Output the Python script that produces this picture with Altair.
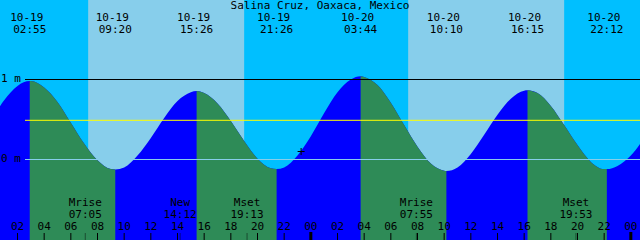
import altair as alt
import pandas as pd

# ---------------- data ----------------
title = "Salina Cruz, Oaxaca, Mexico"

# hourly tide level (m); hour 0 = 10-19 00:00
hours = list(range(0, 50))
level = [0.48, 0.74, 0.92, 0.98, 0.90, 0.72, 0.46, 0.20, -0.01, -0.12,
         -0.10, 0.05, 0.27, 0.52, 0.73, 0.84, 0.83, 0.70, 0.48, 0.23,
         0.01, -0.11, -0.10, 0.05, 0.29, 0.58, 0.84, 1.00, 1.03, 0.93,
         0.71, 0.43, 0.16, -0.05, -0.14, -0.10, 0.07, 0.31, 0.56, 0.76,
         0.86, 0.83, 0.67, 0.43, 0.18, -0.03, -0.12, -0.08, 0.05, 0.27]

# high / low tide events
event_day = [0, 0, 0, 0, 1, 1, 1, 1]
event_date = ["10-19", "10-19", "10-19", "10-19", "10-20", "10-20", "10-20", "10-20"]
event_time = ["02:55", "09:20", "15:26", "21:26", "03:44", "10:10", "16:15", "22:12"]
event_type = ["H", "L", "H", "L", "H", "L", "H", "L"]
event_level = [0.98, -0.125, 0.855, -0.12, 1.04, -0.145, 0.865, -0.12]

# moon events
moon_day = [0, 0, 0, 1, 1]
moon_name = ["Mrise", "New", "Mset", "Mrise", "Mset"]
moon_time = ["07:05", "14:12", "19:13", "07:55", "19:53"]

# sun (day / night sky)
sky_start = [0.0, 7.3, 19.0, 31.3, 43.0]
sky_end = [7.3, 19.0, 31.3, 43.0, 50.0]
sky_kind = ["night", "day", "night", "day", "night"]

# axis ticks
tick_hours = list(range(2, 49, 2))
tick_labels = ["02", "04", "06", "08", "10", "12", "14", "16", "18", "20", "22", "00",
               "02", "04", "06", "08", "10", "12", "14", "16", "18", "20", "22", "00"]
midnights = [24, 48]

mark_level = 0.49       # yellow line
now_hour, now_level = 23.27, 0.10

# ---------------- build tables ----------------
def to_h(day, t):
    hh, mm = t.split(":")
    return day * 24 + int(hh) + int(mm) / 60.0

event_h = [to_h(d, t) for d, t in zip(event_day, event_time)]
moon_h = [to_h(d, t) for d, t in zip(moon_day, moon_time)]

pts = sorted(zip(hours + event_h, level + event_level))
curve = pd.DataFrame(pts, columns=["h", "v"])

ebb_rows = []
for i in range(len(event_h) - 1):
    if event_type[i] == "H":
        lo, hi = event_h[i], event_h[i + 1]
        for h, v in pts:
            if lo <= h <= hi:
                ebb_rows.append({"h": h, "v": v, "seg": i})
ebb = pd.DataFrame(ebb_rows)

events = pd.DataFrame({"h": event_h, "date": event_date, "time": event_time})
moons = pd.DataFrame({"h": moon_h, "name": moon_name, "time": moon_time})
sky = pd.DataFrame({"a": sky_start, "b": sky_end, "kind": sky_kind})
ticks = pd.DataFrame({"h": tick_hours, "lab": tick_labels})
mid = pd.DataFrame({"h": midnights})
ylabs = pd.DataFrame({"v": [1.0, 0.0], "lab": ["1 m", "0 m"]})
now = pd.DataFrame({"h": [now_hour], "v": [now_level]})

# ---------------- scales ----------------
xs = alt.Scale(domain=[0.6875, 48.6875], nice=False, zero=False)
ys = alt.Scale(domain=[-1.00625, 1.99375], nice=False, zero=False)
FONT = "DejaVu Sans Mono"
FS = 11

X = lambda f="h": alt.X(f"{f}:Q", scale=xs, axis=None)

night_bg = alt.Chart(sky).transform_filter("datum.kind == 'night'").mark_rect(color="#00bfff").encode(
    x=X("a"), x2="b:Q", y=alt.value(0), y2=alt.value(240))
day_bg = alt.Chart(sky).transform_filter("datum.kind == 'day'").mark_rect(color="#87ceeb").encode(
    x=X("a"), x2="b:Q", y=alt.value(0), y2=alt.value(240))

flood = alt.Chart(curve).mark_area(color="#0000ff", interpolate="monotone", clip=True).encode(
    x=X(), y=alt.Y("v:Q", scale=ys, axis=None, stack=None), y2=alt.datum(-1.00625))
ebb_area = alt.Chart(ebb).mark_area(color="#2e8b57", interpolate="monotone", clip=True).encode(
    x=X(), y=alt.Y("v:Q", scale=ys, axis=None, stack=None), y2=alt.datum(-1.00625),
    detail="seg:N")

def hline(val, col):
    return alt.Chart(pd.DataFrame({"v": [val]})).mark_rule(color=col, strokeWidth=1).encode(
        y=alt.Y("v:Q", scale=ys, axis=None), x=alt.value(25), x2=alt.value(640))

l1 = hline(1.0, "#000000")
lmark = hline(mark_level, "#ffff00")
l0 = hline(0.0, "#87ceeb")

ylab = alt.Chart(ylabs).mark_text(font=FONT, fontSize=FS, align="left", baseline="middle",
                                  dy=-1, color="black").encode(
    x=alt.value(1), y=alt.Y("v:Q", scale=ys, axis=None), text="lab:N")

title_t = alt.Chart(pd.DataFrame({"t": [title]})).mark_text(
    font=FONT, fontSize=FS, align="center", baseline="alphabetic", color="black").encode(
    x=alt.value(320), y=alt.value(9), text="t:N")

ev_date = alt.Chart(events).mark_text(font=FONT, fontSize=FS, align="center",
                                      baseline="alphabetic", dx=-3, color="black").encode(
    x=X(), y=alt.value(21), text="date:N")
ev_time = alt.Chart(events).mark_text(font=FONT, fontSize=FS, align="center",
                                      baseline="alphabetic", color="black").encode(
    x=X(), y=alt.value(33), text="time:N")

moon_n = alt.Chart(moons).mark_text(font=FONT, fontSize=FS, align="center",
                                    baseline="alphabetic", color="black").encode(
    x=X(), y=alt.value(206), text="name:N")
moon_t = alt.Chart(moons).mark_text(font=FONT, fontSize=FS, align="center",
                                    baseline="alphabetic", color="black").encode(
    x=X(), y=alt.value(218), text="time:N")

tick_t = alt.Chart(ticks).mark_text(font=FONT, fontSize=FS, align="center",
                                    baseline="alphabetic", color="black").encode(
    x=X(), y=alt.value(230), text="lab:N")
tick_r = alt.Chart(ticks).mark_rule(color="black", strokeWidth=1).encode(
    x=X(), y=alt.value(233), y2=alt.value(240))
mid_r = alt.Chart(mid).mark_rule(color="black", strokeWidth=3).encode(
    x=X(), y=alt.value(232), y2=alt.value(240))
moon_r = alt.Chart(moons).mark_rule(color="black", strokeWidth=1, opacity=0.45).encode(
    x=X(), y=alt.value(233), y2=alt.value(240))

now_pt = alt.Chart(now).mark_point(shape="M-1,0L1,0M0,-1L0,1", size=49, filled=False,
                                   color="black", strokeWidth=1, opacity=1).encode(
    x=X(), y=alt.Y("v:Q", scale=ys, axis=None))

chart = alt.layer(
    night_bg, day_bg, flood, ebb_area, l1, lmark, l0, ylab, title_t, ev_date, ev_time,
    moon_n, moon_t, tick_t, tick_r, mid_r, moon_r, now_pt
).properties(
    width=640, height=240, padding=0, autosize=alt.AutoSizeParams(type="none"),
    background="#00bfff"
).configure_view(stroke=None)

chart.save("out.html", embed_options={"renderer": "svg", "actions": False})
